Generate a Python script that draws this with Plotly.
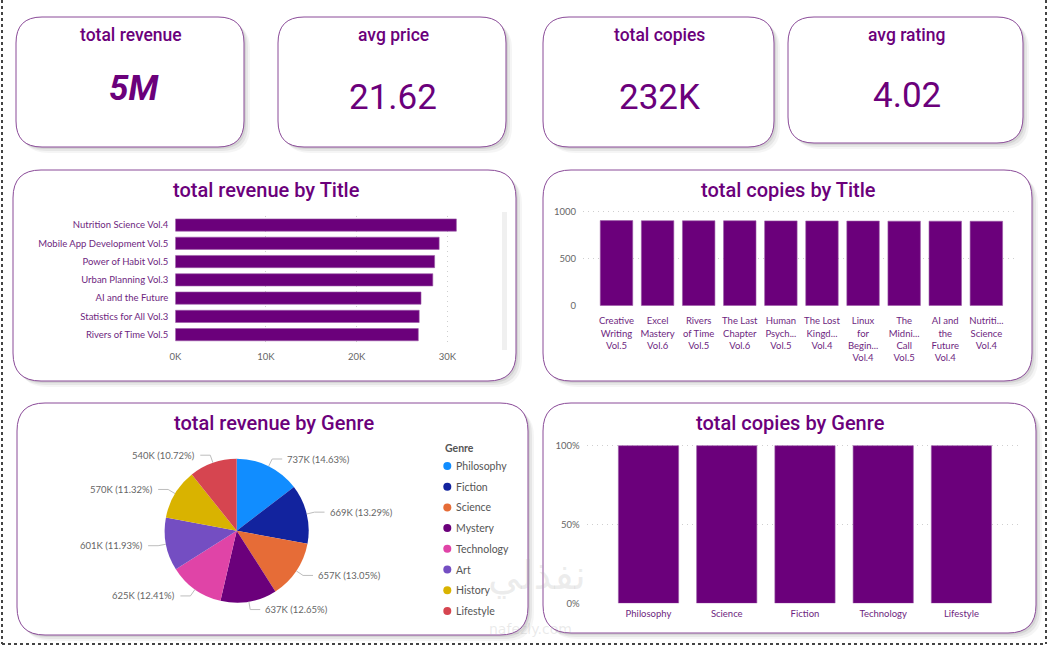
import math

import plotly.graph_objects as go

W, H = 1052, 647
PURPLE = "#6B007B"
TICK_PURPLE = "#6e1f80"
GREY = "#666666"
TITLE_FONT = "Roboto"
BODY_FONT = "Lato"

# KPI cards
kpi_labels = ["total revenue", "avg price", "total copies", "avg rating"]
kpi_values = ["5M", "21.62", "232K", "4.02"]

# total revenue by Title (top 7)
rev_titles = [
    "Nutrition Science Vol.4",
    "Mobile App Development Vol.5",
    "Power of Habit Vol.5",
    "Urban Planning Vol.3",
    "AI and the Future",
    "Statistics for All Vol.3",
    "Rivers of Time Vol.5",
]
rev_values = [31000, 29100, 28600, 28400, 27100, 26900, 26800]
rev_ticks = [0, 10000, 20000, 30000]
rev_tick_text = ["0K", "10K", "20K", "30K"]

# total copies by Title (top 10), labels wrapped like the report
copy_titles = [
    "Creative<br>Writing<br>Vol.5",
    "Excel<br>Mastery<br>Vol.6",
    "Rivers<br>of Time<br>Vol.5",
    "The Last<br>Chapter<br>Vol.6",
    "Human<br>Psych...<br>Vol.5",
    "The Lost<br>Kingd...<br>Vol.4",
    "Linux<br>for<br>Begin...<br>Vol.4",
    "The<br>Midni...<br>Call<br>Vol.5",
    "AI and<br>the<br>Future<br>Vol.4",
    "Nutriti...<br>Science<br>Vol.4",
]
copy_values = [905, 904, 903, 903, 902, 901, 900, 899, 899, 898]
copy_ticks = [0, 500, 1000]

# total revenue by Genre
genres = ["Philosophy", "Fiction", "Science", "Mystery", "Technology", "Art", "History", "Lifestyle"]
genre_revenue = [736800, 669300, 657200, 637100, 625000, 600800, 570100, 539900]
genre_colors = ["#118DFF", "#12239E", "#E66C37", "#6B007B", "#E044A7", "#744EC2", "#D9B300", "#D64550"]

# total copies by Genre (100% stacked column)
copy_genres = ["Philosophy", "Science", "Fiction", "Technology", "Lifestyle"]
copy_genre_share = [100, 100, 100, 100, 100]
share_ticks = [0, 50, 100]
share_tick_text = ["0%", "50%", "100%"]


def px(x):
    return x / W


def py(y):
    return 1 - y / H


def rounded(x0, y0, x1, y1, r):
    # rounded rectangle path in paper coords from pixel box
    return (
        f"M {px(x0 + r)},{py(y0)} L {px(x1 - r)},{py(y0)} "
        f"Q {px(x1)},{py(y0)} {px(x1)},{py(y0 + r)} L {px(x1)},{py(y1 - r)} "
        f"Q {px(x1)},{py(y1)} {px(x1 - r)},{py(y1)} L {px(x0 + r)},{py(y1)} "
        f"Q {px(x0)},{py(y1)} {px(x0)},{py(y1 - r)} L {px(x0)},{py(y0 + r)} "
        f"Q {px(x0)},{py(y0)} {px(x0 + r)},{py(y0)} Z"
    )


shapes = []
annotations = []


def add_box(x0, y0, x1, y1, r=26):
    # soft drop shadow, then the white card with a thin purple border
    for off, alpha in [(6, 0.04), (4, 0.06), (2, 0.08)]:
        shapes.append(dict(
            type="path", xref="paper", yref="paper", layer="below",
            path=rounded(x0 + off, y0 + off, x1 + off, y1 + off, r),
            fillcolor=f"rgba(0,0,0,{alpha})", line=dict(width=0),
        ))
    shapes.append(dict(
        type="path", xref="paper", yref="paper", layer="below",
        path=rounded(x0, y0, x1, y1, r),
        fillcolor="white", line=dict(color="#8a4a98", width=1),
    ))


def add_text(x, y, text, size, color=PURPLE, family=TITLE_FONT, anchor="center", **font_kw):
    annotations.append(dict(
        x=px(x), y=py(y), xref="paper", yref="paper", text=text, showarrow=False,
        xanchor=anchor, yanchor="middle",
        font=dict(family=family, size=size, color=color, **font_kw),
    ))


# KPI cards
card_boxes = [(16, 17, 244, 147), (278, 17, 506, 147), (543, 17, 774, 147), (788, 17, 1023, 143)]
value_y = [88, 97, 97, 96]
for box, label, value, vy in zip(card_boxes, kpi_labels, kpi_values, value_y):
    add_box(*box)
    cx = (box[0] + box[2]) / 2 + 1
    add_text(cx, 35, label, 17.5, weight=500)
    if value == "5M":
        add_text(cx + 3, vy, "<b><i>" + value + "</i></b>", 35)
    else:
        add_text(cx, vy, value, 35)

# chart panels
panel_boxes = [(13, 170, 516, 381), (543, 170, 1032, 381), (17, 403, 528, 635), (543, 403, 1036, 633)]
panel_titles = [
    (266, 190, "total revenue by Title"),
    (788, 190, "total copies by Title"),
    (274, 423, "total revenue by Genre"),
    (790, 423, "total copies by Genre"),
]
for box in panel_boxes:
    add_box(*box, r=28)
for x, y, t in panel_titles:
    add_text(x, y, t, 20, weight=500)

# scrollbar on the revenue-by-title visual
shapes.append(dict(
    type="rect", xref="paper", yref="paper", layer="below",
    x0=px(502), x1=px(507), y0=py(350), y1=py(212),
    fillcolor="#f0f0f0", line=dict(width=0),
))

fig = go.Figure()

fig.add_trace(go.Bar(
    x=rev_values, y=rev_titles, orientation="h",
    marker=dict(color=PURPLE, line=dict(color="#9a5aa6", width=0.6)),
    width=0.67, xaxis="x", yaxis="y", hoverinfo="x+y",
))

fig.add_trace(go.Bar(
    x=copy_titles, y=copy_values,
    marker=dict(color=PURPLE, line=dict(color="#9a5aa6", width=0.6)),
    width=0.79, xaxis="x2", yaxis="y2", hoverinfo="y",
))

fig.add_trace(go.Bar(
    x=copy_genres, y=copy_genre_share,
    marker=dict(color=PURPLE, line=dict(color="#9a5aa6", width=0.6)),
    width=0.77, xaxis="x3", yaxis="y3", hoverinfo="x+y",
))

# pie: revenue by genre
cx, cy, r = 236.7, 530.7, 72
fig.add_trace(go.Pie(
    labels=genres, values=genre_revenue, sort=False, direction="clockwise",
    marker=dict(colors=genre_colors, line=dict(width=0)),
    textinfo="none", showlegend=False, automargin=False,
    domain=dict(x=[px(cx - r), px(cx + r)], y=[py(cy + r), py(cy - r)]),
))

# outside data labels with leader lines, placed from each slice's mid angle
total = sum(genre_revenue)
cum = 0
for v in genre_revenue:
    theta = (cum + v / 2) / total * 2 * math.pi
    cum += v
    sx, sy = math.sin(theta), -math.cos(theta)
    ex, ey = cx + r * sx, cy + r * sy
    bx, by = cx + (r + 8) * sx, cy + (r + 8) * sy
    side = 1 if sx >= 0 else -1
    hx = bx + 10 * side
    shapes.append(dict(
        type="path", xref="paper", yref="paper",
        path=f"M {px(ex)},{py(ey)} L {px(bx)},{py(by)} L {px(hx)},{py(by)}",
        line=dict(color="#bdbdbd", width=1),
    ))
    label = f"{v / 1000:.0f}K ({v / total:.2%})"
    add_text(hx + 3 * side, by, label, 9.5, color=GREY, family=BODY_FONT,
             anchor="left" if side > 0 else "right")

# legend for the pie
add_text(442.5, 448, "<b>Genre</b>", 10.5, color="#555555", family=BODY_FONT, anchor="left")
for i, (g, c) in enumerate(zip(genres, genre_colors)):
    ly = 466 + i * 20.7
    shapes.append(dict(
        type="circle", xref="paper", yref="paper",
        x0=px(443.3), x1=px(451.3), y0=py(ly + 4), y1=py(ly - 4),
        fillcolor=c, line=dict(width=0),
    ))
    add_text(453.5, ly, g, 10.5, color="#555555", family=BODY_FONT, anchor="left")

# faint site watermark seen on the screenshot
annotations.append(dict(
    x=px(537), y=py(601), xref="paper", yref="paper", text="نفذلي", showarrow=False,
    font=dict(family="DejaVu Sans", size=40, color="rgba(170,170,170,0.22)"),
))
annotations.append(dict(
    x=px(530), y=py(639), xref="paper", yref="paper", text="nafezly.com", showarrow=False,
    font=dict(family="DejaVu Sans", size=14, color="rgba(170,170,170,0.25)"),
))

# dotted outer frame of the report page
frame = dict(type="line", xref="paper", yref="paper", line=dict(color="#444444", width=2, dash="dot"))
shapes.append({**frame, "x0": px(2), "x1": px(2), "y0": py(0), "y1": py(644)})
shapes.append({**frame, "x0": px(1046), "x1": px(1046), "y0": py(0), "y1": py(644)})
shapes.append({**frame, "x0": px(2), "x1": px(1046), "y0": py(644), "y1": py(644)})

tick_small = dict(family=BODY_FONT, size=9.5, color=GREY)
grid = dict(showgrid=True, gridcolor="#cfcfcf", griddash="1px,4px", gridwidth=1, zeroline=False,
            showline=False, automargin=False, ticks="")

fig.update_layout(
    template="none",
    width=W, height=H,
    margin=dict(l=0, r=0, t=0, b=0, pad=0),
    paper_bgcolor="white", plot_bgcolor="rgba(0,0,0,0)",
    showlegend=False, bargap=0.3, hovermode="closest",
    shapes=shapes, annotations=annotations,
    font=dict(family=BODY_FONT),
    xaxis=dict(
        domain=[px(175.3), px(460)], anchor="y", range=[0, 31400],
        tickvals=rev_ticks, ticktext=rev_tick_text, tickfont=tick_small,
        ticklabelstandoff=6, **grid,
    ),
    yaxis=dict(
        domain=[py(343.8), py(215.9)], anchor="x", type="category",
        categoryorder="array", categoryarray=rev_titles, range=[6.5, -0.5],
        tickfont=dict(family=BODY_FONT, size=9.5, color=TICK_PURPLE),
        ticklabelstandoff=6, showgrid=False, zeroline=False, showline=False,
        automargin=False, ticks="",
    ),
    xaxis2=dict(
        domain=[px(583), px(1018)], anchor="y2", type="category",
        range=[-0.815, 9.77], tickfont=dict(family=BODY_FONT, size=9.5, color=TICK_PURPLE),
        ticklabelstandoff=8, showgrid=False, zeroline=False, showline=False,
        automargin=False, ticks="",
    ),
    yaxis2=dict(
        domain=[py(305.7), py(207.9)], anchor="x2", range=[0, 1040],
        tickvals=copy_ticks, tickfont=tick_small, ticklabelstandoff=6, **grid,
    ),
    xaxis3=dict(
        domain=[px(586.7), px(1021.7)], anchor="y3", type="category",
        range=[-0.79, 4.77], tickfont=dict(family=BODY_FONT, size=9.5, color=TICK_PURPLE),
        ticklabelstandoff=3, showgrid=False, zeroline=False, showline=False,
        automargin=False, ticks="",
    ),
    yaxis3=dict(
        domain=[py(603.3), py(442.5)], anchor="x3", range=[0, 102],
        tickvals=share_ticks, ticktext=share_tick_text, tickfont=tick_small,
        ticklabelstandoff=6, **grid,
    ),
)

# page margin off so the figure fills the window exactly; no modebar in the picture
fig.write_html(
    "out.html",
    config={"displayModeBar": False},
    post_script="document.body.style.margin='0';document.body.style.overflow='hidden';",
)
